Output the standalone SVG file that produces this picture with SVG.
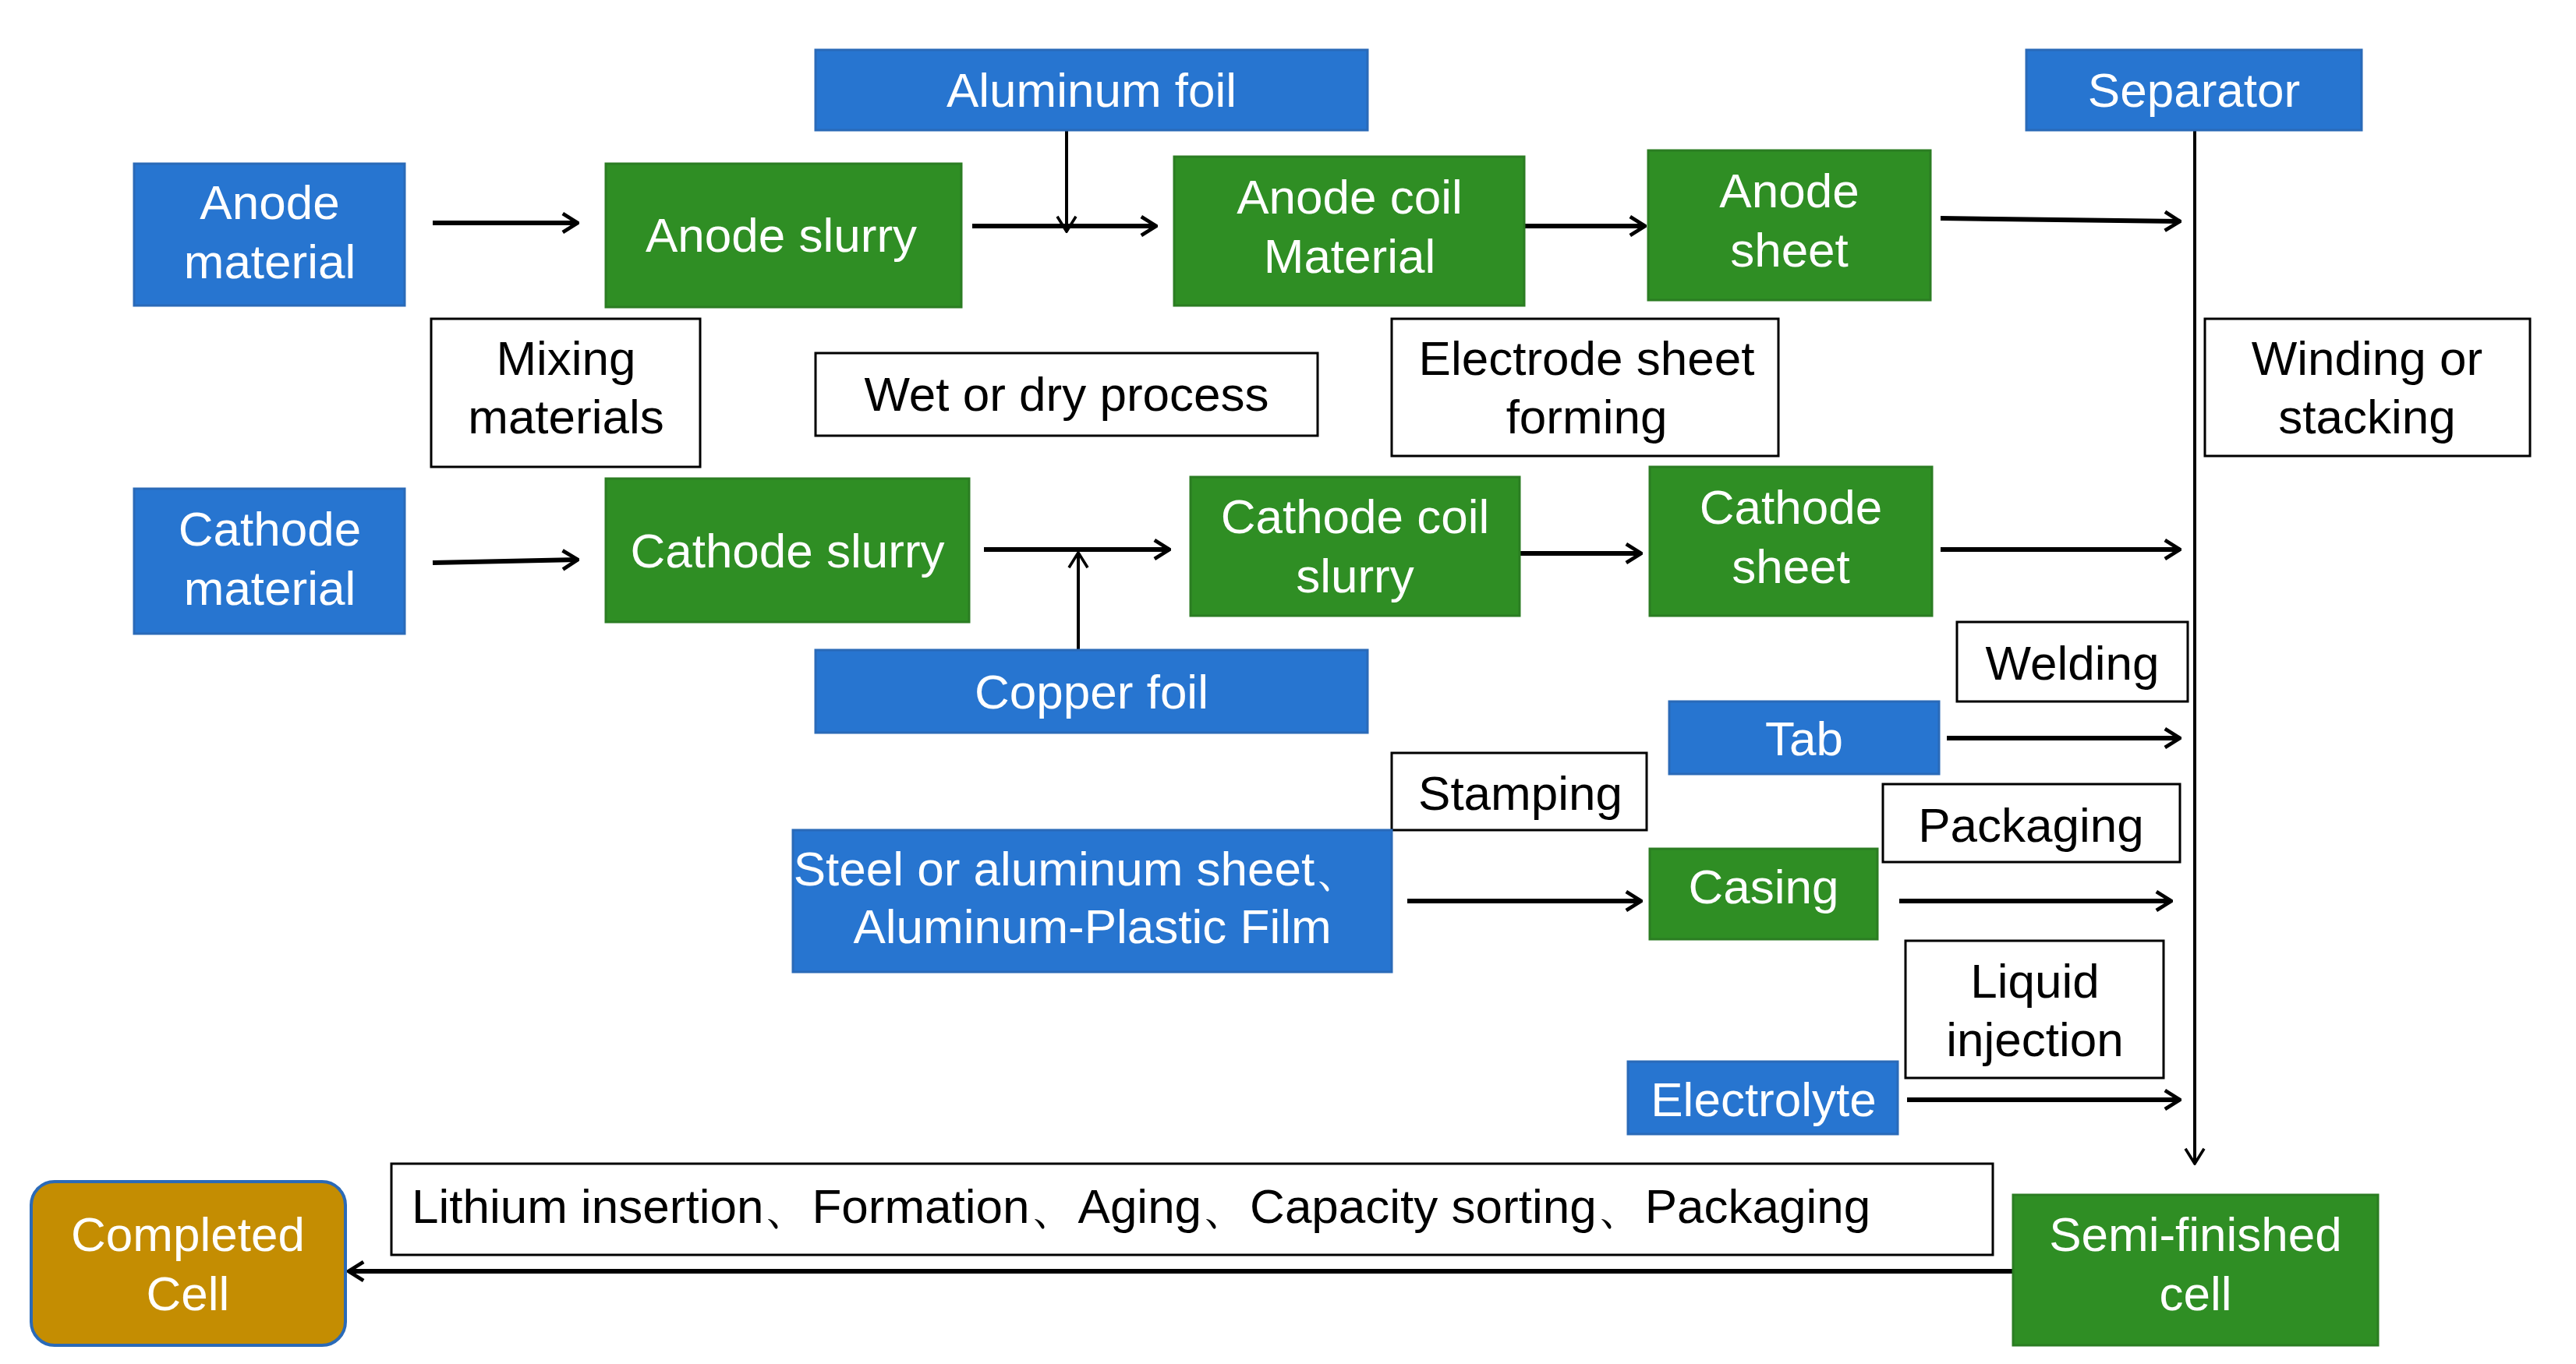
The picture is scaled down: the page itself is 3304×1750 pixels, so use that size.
<svg xmlns="http://www.w3.org/2000/svg" width="3304" height="1750" viewBox="0 0 3304 1750">
<style>
.b{fill:#2775d0;stroke:#2a6ab8;stroke-width:3}
.g{fill:#2f8e24;stroke:#2b7d22;stroke-width:3}
.w{fill:#fff;stroke:#000;stroke-width:3}
.o{fill:#c48d02;stroke:#2a6ab8;stroke-width:4}
text{font-family:"Liberation Sans",Arial,sans-serif;font-size:62px;text-anchor:middle}
.lt{fill:#fff}
.dk{fill:#000}
.c{stroke:#000;stroke-width:6;fill:none;marker-end:url(#a)}
.t{stroke:#000;stroke-width:4;fill:none;marker-end:url(#a2)}
</style>
<defs>
<marker id="a" viewBox="0 0 10 10" refX="9" refY="5" markerWidth="4" markerHeight="5" orient="auto" markerUnits="strokeWidth"><path d="M1 0 L9 5 L1 10" fill="none" stroke="#000" stroke-width="2"/></marker>
<marker id="a2" viewBox="0 0 10 10" refX="9" refY="5" markerWidth="6" markerHeight="7" orient="auto" markerUnits="strokeWidth"><path d="M1 0 L9 5 L1 10" fill="none" stroke="#000" stroke-width="1.5"/></marker>
</defs>
<rect width="3304" height="1750" fill="#fff"/>
<g id="connectors">
<path class="c" d="M555 286 H741"/>
<path class="c" d="M1247 290 H1483"/>
<path class="t" d="M1368 167 V297"/>
<path class="c" d="M1955 290 H2110"/>
<path class="c" d="M2489 280 L2796 284"/>
<path class="t" d="M2815 167 V1493"/>
<path class="c" d="M555 722 L741 718"/>
<path class="c" d="M1262 705 H1500"/>
<path class="t" d="M1383 834 V709"/>
<path class="c" d="M1949 710 H2105"/>
<path class="c" d="M2489 705 H2796"/>
<path class="c" d="M2497 947 H2796"/>
<path class="c" d="M1805 1156 H2105"/>
<path class="c" d="M2436 1156 H2785"/>
<path class="c" d="M2446 1411 H2796"/>
<path class="c" d="M2582 1631 H447"/>
</g>
<g id="aluminum-foil"><rect class="b" x="1046" y="64" width="708" height="103"/><text class="lt" x="1400" y="137">Aluminum foil</text></g>
<g id="separator"><rect class="b" x="2599" y="64" width="430" height="103"/><text class="lt" x="2814" y="137">Separator</text></g>
<g id="anode-material"><rect class="b" x="172" y="210" width="347" height="182"/><text class="lt" x="346" y="281">Anode</text><text class="lt" x="346" y="357">material</text></g>
<g id="anode-slurry"><rect class="g" x="777" y="210" width="456" height="184"/><text class="lt" x="1002" y="323">Anode slurry</text></g>
<g id="anode-coil"><rect class="g" x="1506" y="201" width="449" height="191"/><text class="lt" x="1731" y="274">Anode coil</text><text class="lt" x="1731" y="350">Material</text></g>
<g id="anode-sheet"><rect class="g" x="2114" y="193" width="362" height="192"/><text class="lt" x="2295" y="266">Anode</text><text class="lt" x="2295" y="342">sheet</text></g>
<g id="mixing"><rect class="w" x="553" y="409" width="345" height="190"/><text class="dk" x="726" y="481">Mixing</text><text class="dk" x="726" y="556">materials</text></g>
<g id="wet-dry"><rect class="w" x="1046" y="453" width="644" height="106"/><text class="dk" x="1368" y="527">Wet or dry process</text></g>
<g id="electrode-forming"><rect class="w" x="1785" y="409" width="496" height="176"/><text class="dk" x="2035" y="481">Electrode sheet</text><text class="dk" x="2035" y="556">forming</text></g>
<g id="winding"><rect class="w" x="2828" y="409" width="417" height="176"/><text class="dk" x="3036" y="481">Winding or</text><text class="dk" x="3036" y="556">stacking</text></g>
<g id="cathode-material"><rect class="b" x="172" y="627" width="347" height="186"/><text class="lt" x="346" y="700">Cathode</text><text class="lt" x="346" y="776">material</text></g>
<g id="cathode-slurry"><rect class="g" x="777" y="614" width="466" height="184"/><text class="lt" x="1010" y="728">Cathode slurry</text></g>
<g id="cathode-coil"><rect class="g" x="1527" y="612" width="422" height="178"/><text class="lt" x="1738" y="684">Cathode coil</text><text class="lt" x="1738" y="760">slurry</text></g>
<g id="cathode-sheet"><rect class="g" x="2116" y="599" width="362" height="191"/><text class="lt" x="2297" y="672">Cathode</text><text class="lt" x="2297" y="748">sheet</text></g>
<g id="copper-foil"><rect class="b" x="1046" y="834" width="708" height="106"/><text class="lt" x="1400" y="909">Copper foil</text></g>
<g id="welding"><rect class="w" x="2510" y="798" width="296" height="102"/><text class="dk" x="2658" y="872">Welding</text></g>
<g id="tab"><rect class="b" x="2141" y="900" width="346" height="93"/><text class="lt" x="2314" y="969">Tab</text></g>
<g id="stamping"><rect class="w" x="1785" y="966" width="327" height="99"/><text class="dk" x="1950" y="1039">Stamping</text></g>
<g id="packaging"><rect class="w" x="2415" y="1006" width="381" height="100"/><text class="dk" x="2605" y="1080">Packaging</text></g>
<g id="steel"><rect class="b" x="1017" y="1065" width="768" height="182"/><text class="lt" x="1383" y="1136">Steel or aluminum sheet、</text><text class="lt" x="1401" y="1210">Aluminum-Plastic Film</text></g>
<g id="casing"><rect class="g" x="2116" y="1089" width="292" height="116"/><text class="lt" x="2262" y="1159">Casing</text></g>
<g id="liquid-injection"><rect class="w" x="2444" y="1207" width="331" height="176"/><text class="dk" x="2610" y="1280">Liquid</text><text class="dk" x="2610" y="1355">injection</text></g>
<g id="electrolyte"><rect class="b" x="2088" y="1362" width="346" height="93"/><text class="lt" x="2262" y="1432">Electrolyte</text></g>
<g id="post-process"><rect class="w" x="502" y="1493" width="2054" height="117"/><text class="dk" x="528" y="1569" style="text-anchor:start">Lithium insertion、Formation、Aging、Capacity sorting、Packaging</text></g>
<g id="completed-cell"><rect class="o" x="40" y="1516" width="403" height="210" rx="30"/><text class="lt" x="241" y="1605">Completed</text><text class="lt" x="241" y="1681">Cell</text></g>
<g id="semi-finished"><rect class="g" x="2582" y="1533" width="468" height="193"/><text class="lt" x="2816" y="1605">Semi-finished</text><text class="lt" x="2816" y="1681">cell</text></g>
</svg>
